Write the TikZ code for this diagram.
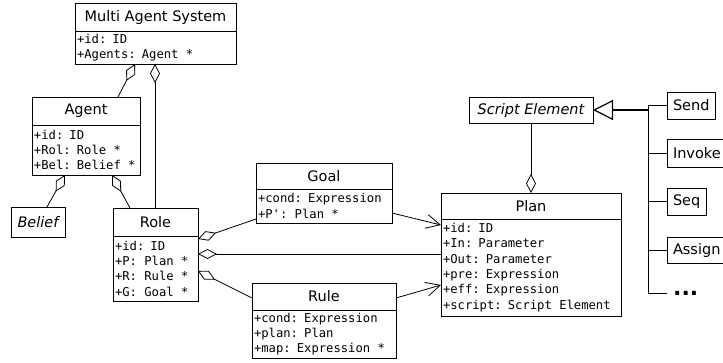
\documentclass[tikz,border=0pt]{standalone}
\usepackage{fontspec}
\setmainfont{DejaVu Sans}
\newfontfamily\monof{DejaVu Sans Mono}
\usetikzlibrary{arrows.meta,calc}
\tikzset{
  ctitle/.style={draw, line width=0.8pt, anchor=north west, inner sep=0pt, outer sep=0pt, font=\fontsize{14.5}{17}\selectfont},
  cattrs/.style={draw, line width=0.8pt, anchor=north west, inner xsep=2pt, inner ysep=0pt, outer sep=0pt, align=left, font=\monof\fontsize{12.2}{15.3}\selectfont},
  sbox/.style={draw, line width=0.8pt, anchor=north west, inner xsep=6pt, inner ysep=0pt, outer sep=0pt, minimum height=27pt, font=\fontsize{14.5}{17}\selectfont},
  italbox/.style={sbox, font=\fontsize{14.5}{17}\selectfont\itshape},
  conn/.style={line width=0.8pt},
  aggr/.style={conn, -{Diamond[open, length=19pt, width=10pt]}},
  navig/.style={conn, -{Straight Barb[length=14pt, width=14pt]}},
  gen/.style={line width=1.2pt, -{Triangle[open, length=20pt, width=20pt]}},
}
\newcommand\umlclass[8]{%
  \node[ctitle, minimum width=#4pt, minimum height=#5pt] (#1) at (#2,#3) {#7};
  \pgfmathsetmacro\umltw{#4-4}%
  \node[cattrs, text width=\umltw pt, minimum height=#6pt] (#1a) at (#1.south west) {\spaceskip=0.6021em\relax #8};
}
\begin{document}
\begin{tikzpicture}[x=1pt,y=-1pt]
\useasboundingbox (0,0) rectangle (723,362);
\clip (0,0) rectangle (723,362);
\umlclass{mas}{75}{3}{161}{28}{33}{Multi Agent System}{+id: ID\\+Agents: Agent *}
\umlclass{agent}{32}{97}{108}{28}{50}{Agent}{+id: ID\\+Rol: Role *\\+Bel: Belief *}
\umlclass{role}{113}{208}{85}{28}{65}{Role}{+id: ID\\+P: Plan *\\+R: Rule *\\+G: Goal *}
\umlclass{goal}{256}{163}{136}{26}{34}{Goal}{+cond: Expression\\+P': Plan *}
\umlclass{rule}{252}{283}{144}{27}{48}{Rule}{+cond: Expression\\+plan: Plan\\+map: Expression *}
\umlclass{plan}{441}{193}{180}{26}{97}{Plan}{+id: ID\\+In: Parameter\\+Out: Parameter\\+pre: Expression\\+eff: Expression\\+script: Script Element}
\node[italbox, minimum width=54pt, minimum height=30pt] (belief) at (11,207) {Belief};
\node[italbox, minimum width=124pt, minimum height=26pt] (se) at (469,97) {Script Element};
\node[sbox] (send) at (667,92) {Send};
\node[sbox, minimum height=28pt, minimum width=70pt, align=left, text width=58pt] (invoke) at (667,139) {Invoke};
\node[sbox] (seq) at (667,188) {Seq};
\node[sbox, minimum height=26pt] (assign) at (667,237) {Assign};
\node[anchor=base west, inner sep=0pt, font=\fontsize{22}{22}\selectfont\bfseries] (dots) at (673,295.5) {...};
% aggregations
\draw[aggr] ($(agent.north west)+(86,0)$) -- ($(masa.south west)+(60,0)$);
\draw[aggr] ($(role.north west)+(42,0)$) -- ($(masa.south west)+(80,0)$);
\draw[aggr] ($(belief.north west)+(36,0)$) -- ($(agenta.south west)+(33,0)$);
\draw[aggr] ($(role.north west)+(17,0)$) -- ($(agenta.south west)+(80,0)$);
\draw[aggr] ($(goala.north west)+(0,30)$) -- ($(rolea.north east)+(0,3)$);
\draw[aggr] ($(plana.north west)+(0,35)$) -- ($(rolea.north east)+(0,18)$);
\draw[aggr] ($(rule.north west)+(0,15)$) -- ($(rolea.north east)+(0,35)$);
\draw[aggr] (se.south) -- (plan.north);
% navigations
\draw[navig] ($(goala.north east)+(0,24)$) -- ($(plana.north west)+(0,6)$);
\draw[navig] ($(rule.north east)+(0,15)$) -- ($(plana.north west)+(0,66)$);
% generalization
\coordinate (bx) at (648,110);
\coordinate (bend) at (648,293);
\coordinate (dotl) at (667,293);
\draw[gen] (bx) -- (se.east);
\draw[conn] (send.west -| bx) -- (bend) -- (dotl);
\draw[conn] (send.west -| bx) -- (send.west);
\draw[conn] (invoke.west -| bx) -- (invoke.west);
\draw[conn] (seq.west -| bx) -- (seq.west);
\draw[conn] (assign.west -| bx) -- (assign.west);
\end{tikzpicture}
\end{document}
